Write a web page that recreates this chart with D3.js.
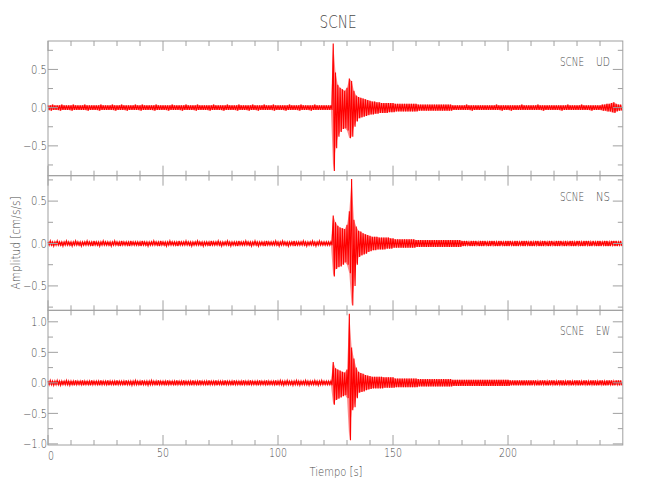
<!DOCTYPE html>
<html><head><meta charset="utf-8">
<script src="https://cdn.jsdelivr.net/npm/d3@7"></script>
<style>
body{margin:0;background:#fff}
text{font-family:'DejaVu Sans',sans-serif;font-weight:200;fill:#4a4a4a}
</style>
</head><body>
<svg id="chart" width="650" height="500"></svg>
<script>
// ---------- DATA ----------
const chartTitle = "SCNE";
const station = "SCNE";
const components = ["UD", "NS", "EW"];
const xLabel = "Tiempo [s]";
const yLabel = "Amplitud [cm/s/s]";
const xDomain = [0, 249.9];
const xMajorTicks = [0, 50, 100, 150, 200];
const xMinorTicks = d3.range(0, 250, 10);
const yDomains = [[-0.89, 0.872], [-0.788, 0.80], [-1.018, 1.188]];
const yMajorTicks = [[-0.5, 0, 0.5], [-0.5, 0, 0.5], [-1, -0.5, 0, 0.5, 1]];
const yMinorTicks = [[-0.75, -0.5, -0.25, 0, 0.25, 0.5, 0.75],
                     [-0.75, -0.5, -0.25, 0, 0.25, 0.5, 0.75],
                     [-1, -0.75, -0.5, -0.25, 0, 0.25, 0.5, 0.75, 1]];
const ampUnit = 0.01; // envelope values below are in hundredths of cm/s/s, one per second (0..249 s)

const udUpper = [
3,3,4,3,3,3,4,3,3,3, 3,4,3,3,3,3,4,3,3,3, 3,3,3,4,3,3,3,3,4,3, 3,3,4,3,3,3,3,3,4,3, 3,4,3,3,3,3,3,4,3,3,
3,3,3,3,4,3,3,3,3,3, 4,3,3,3,3,4,3,3,3,3, 3,3,4,3,3,3,3,3,4,3, 3,3,3,4,3,3,3,3,3,4, 3,3,3,3,4,3,3,3,4,3,
3,3,3,3,3,4,3,3,3,3, 4,3,3,3,3,3,4,3,3,3, 3,3,3,3,84,46,30,26,24,22, 26,38,35,22,16,14,13,12,11,10, 9,8,8,7,7,6,6,6,6,6,
6,5,5,5,5,5,5,5,5,5, 5,4,4,4,4,4,4,4,4,4, 4,4,4,4,4,4,3,3,3,3, 3,3,4,3,3,3,3,3,3,3, 3,3,3,3,3,4,3,3,3,3,
3,3,3,3,3,3,4,3,3,3, 3,3,3,4,3,3,3,3,3,3, 3,3,3,3,3,3,4,3,3,3, 3,3,4,3,3,3,3,3,3,3, 3,4,4,5,5,6,7,5,4,4];
const udLower = [
-3,-4,-3,-3,-3,-4,-3,-3,-3,-3, -4,-3,-3,-3,-3,-3,-3,-4,-3,-3, -3,-3,-4,-3,-3,-3,-3,-3,-3,-4, -3,-3,-3,-3,-4,-3,-3,-3,-3,-3, -4,-3,-3,-3,-3,-3,-4,-3,-3,-3,
-3,-3,-4,-3,-3,-3,-3,-3,-4,-3, -3,-3,-3,-3,-4,-3,-3,-3,-3,-3, -4,-3,-3,-3,-3,-3,-4,-3,-3,-3, -3,-3,-4,-3,-3,-3,-3,-4,-3,-3, -3,-4,-3,-3,-3,-3,-3,-3,-4,-3,
-3,-3,-3,-4,-3,-3,-3,-3,-3,-4, -3,-3,-3,-3,-4,-3,-3,-3,-3,-3, -3,-3,-3,-3,-83,-53,-38,-32,-28,-27, -30,-40,-38,-25,-18,-14,-13,-12,-11,-10, -9,-9,-8,-8,-7,-7,-7,-7,-6,-6,
-6,-5,-5,-5,-5,-5,-5,-5,-5,-5, -5,-4,-4,-4,-4,-4,-4,-4,-4,-4, -4,-4,-4,-4,-4,-4,-3,-3,-3,-3, -3,-3,-3,-3,-4,-3,-3,-3,-3,-3, -3,-3,-3,-3,-3,-3,-3,-4,-3,-3,
-3,-4,-3,-3,-3,-3,-3,-3,-3,-3, -3,-3,-3,-3,-3,-4,-3,-3,-3,-3, -3,-3,-3,-4,-3,-3,-3,-3,-3,-3, -3,-3,-3,-3,-3,-3,-4,-3,-3,-3, -3,-4,-4,-5,-5,-6,-7,-5,-4,-4];

const nsUpper = [
2,3,2,2,3,2,2,2,3,2, 2,2,3,2,2,2,2,3,2,2, 3,2,2,2,3,2,2,2,2,3, 2,2,3,2,2,2,3,2,2,2, 2,3,2,2,2,2,3,2,2,3,
2,2,2,3,2,2,2,3,2,2, 3,2,2,2,2,3,2,2,2,2, 2,3,2,2,3,2,2,2,3,2, 2,2,2,3,2,2,3,2,2,2, 3,2,2,2,2,3,2,2,2,3,
2,2,3,2,2,2,2,3,2,2, 2,3,2,2,2,3,2,2,3,2, 2,2,2,2,33,25,21,19,18,17, 22,38,76,28,20,15,14,12,11,10, 9,8,8,8,7,7,7,7,7,6,
6,5,5,5,5,5,5,5,5,5, 4,4,4,4,4,4,4,4,4,4, 4,4,4,4,4,4,4,4,4,4, 3,3,3,2,3,3,3,2,3,3, 3,2,3,3,3,2,3,3,2,3,
3,3,2,3,3,2,3,3,3,2, 3,2,3,3,2,3,3,2,3,3, 2,3,3,3,2,3,2,3,3,2, 3,3,2,3,3,3,2,3,2,3, 3,2,3,3,2,3,3,3,2,3];
const nsLower = [
-2,-2,-3,-2,-2,-2,-3,-2,-2,-2, -3,-2,-2,-2,-3,-2,-2,-2,-2,-3, -2,-2,-3,-2,-2,-2,-2,-3,-2,-2, -2,-3,-2,-2,-2,-3,-2,-2,-2,-2, -3,-2,-2,-3,-2,-2,-2,-2,-3,-2,
-2,-3,-2,-2,-2,-2,-3,-2,-2,-2, -2,-2,-3,-2,-2,-2,-2,-3,-2,-2, -3,-2,-2,-2,-2,-3,-2,-2,-2,-3, -2,-2,-3,-2,-2,-2,-2,-2,-3,-2, -2,-3,-2,-2,-3,-2,-2,-2,-2,-2,
-3,-2,-2,-2,-3,-2,-2,-3,-2,-2, -2,-2,-3,-2,-2,-2,-3,-2,-2,-2, -2,-2,-2,-2,-39,-30,-28,-27,-25,-22, -25,-35,-73,-50,-25,-16,-14,-13,-12,-10, -9,-8,-8,-7,-7,-7,-7,-6,-6,-6,
-5,-5,-5,-5,-5,-5,-5,-5,-5,-5, -4,-4,-4,-4,-4,-4,-4,-4,-4,-4, -4,-4,-4,-4,-4,-4,-4,-4,-4,-4, -3,-3,-2,-3,-3,-3,-2,-3,-3,-3, -2,-3,-3,-2,-3,-3,-3,-2,-3,-3,
-3,-2,-3,-3,-3,-2,-3,-3,-2,-3, -3,-3,-2,-3,-3,-3,-2,-3,-3,-2, -3,-3,-3,-2,-3,-3,-2,-3,-3,-3, -2,-3,-3,-3,-2,-3,-3,-2,-3,-3, -3,-2,-3,-3,-3,-2,-3,-3,-2,-3];

const ewUpper = [
3,4,3,3,4,3,3,3,4,3, 3,3,4,3,3,4,3,3,3,4, 3,3,3,4,3,3,4,3,3,3, 4,3,3,3,4,3,3,3,4,3, 3,4,3,3,3,4,3,3,4,3,
3,3,4,3,3,3,4,3,3,4, 3,3,3,4,3,3,4,3,3,3, 4,3,3,4,3,3,3,4,3,3, 3,4,3,3,3,4,3,3,4,3, 3,3,4,3,3,4,3,3,3,4,
3,4,3,3,4,3,3,3,4,3, 3,3,4,3,3,3,4,3,3,4, 3,3,3,3,34,24,22,20,18,17, 22,113,58,40,25,18,16,15,13,12, 11,10,10,10,10,10,9,9,9,9,
9,7,7,7,7,7,7,7,7,7, 7,6,6,6,6,6,6,6,6,6, 6,6,6,6,6,6,5,5,5,5, 5,5,5,5,5,5,5,5,5,5, 5,5,5,5,5,5,5,5,5,5,
5,4,4,4,4,4,4,4,4,4, 4,4,4,3,4,4,4,3,4,4, 4,3,4,4,4,3,4,4,3,4, 4,4,3,4,4,3,4,4,4,3, 4,4,3,4,4,4,3,4,4,4];
const ewLower = [
-3,-3,-4,-3,-3,-4,-3,-3,-3,-4, -3,-4,-3,-3,-3,-4,-3,-3,-4,-3, -3,-3,-4,-3,-3,-3,-4,-3,-3,-4, -3,-3,-3,-4,-3,-3,-4,-3,-3,-3, -4,-3,-3,-4,-3,-3,-3,-4,-3,-3,
-3,-4,-3,-3,-3,-4,-3,-3,-4,-3, -3,-3,-4,-3,-3,-4,-3,-3,-3,-4, -3,-3,-3,-4,-3,-3,-4,-3,-3,-3, -4,-3,-3,-3,-4,-3,-3,-4,-3,-3, -3,-4,-3,-3,-3,-4,-3,-3,-3,-4,
-3,-3,-4,-3,-3,-3,-4,-3,-3,-4, -3,-3,-3,-4,-3,-3,-3,-4,-3,-3, -3,-3,-3,-4,-36,-28,-26,-24,-22,-20, -25,-94,-45,-40,-25,-16,-15,-14,-12,-11, -10,-9,-9,-9,-9,-9,-8,-8,-8,-8,
-8,-7,-7,-7,-7,-7,-7,-7,-7,-7, -7,-6,-6,-6,-6,-6,-6,-6,-6,-6, -6,-6,-6,-6,-6,-6,-5,-5,-5,-5, -5,-5,-5,-5,-5,-5,-5,-5,-5,-5, -5,-5,-5,-5,-5,-5,-5,-5,-5,-5,
-5,-4,-4,-4,-4,-4,-4,-4,-4,-4, -4,-3,-4,-4,-4,-3,-4,-4,-4,-3, -4,-4,-3,-4,-4,-4,-3,-4,-4,-3, -4,-4,-4,-3,-4,-4,-3,-4,-4,-4, -3,-4,-4,-4,-3,-4,-4,-3,-4,-4];

const traces = [
  {upper: udUpper, lower: udLower},
  {upper: nsUpper, lower: nsLower},
  {upper: ewUpper, lower: ewLower}
];

// ---------- LAYOUT ----------
const svg = d3.select("#chart");
const plotLeft = 48, plotRight = 622.8, plotTop = 41, plotBottom = 445;
const panelH = (plotBottom - plotTop) / 3;
const axisColor = "#a0a0a0";
const traceColor = "#ff0000";
const majorLen = 10, minorLen = 5;

const x = d3.scaleLinear().domain(xDomain).range([plotLeft, plotRight]);

svg.append("text").attr("x", 338).attr("y", 28).attr("text-anchor", "middle")
  .attr("font-size", 18).attr("textLength", 37).attr("lengthAdjust", "spacingAndGlyphs").text(chartTitle);

traces.forEach((tr, k) => {
  const y0 = plotTop + k * panelH, y1 = y0 + panelH;
  const y = d3.scaleLinear().domain(yDomains[k]).range([y1, y0]);
  const g = svg.append("g");

  // light envelope fill (reads as the dense oscillation of the trace)
  g.append("path").datum(tr.upper.map((u, i) => [i, u * ampUnit, tr.lower[i] * ampUnit]))
    .attr("d", d3.area().x(d => x(d[0])).y0(d => y(d[2])).y1(d => y(d[1])))
    .attr("fill", traceColor).attr("fill-opacity", 0.45);

  const pts = [];
  tr.upper.forEach((u, i) => {
    pts.push([i, u * ampUnit]);
    pts.push([i + 0.5, tr.lower[i] * ampUnit]);
  });
  g.append("path").datum(pts)
    .attr("d", d3.line().x(d => x(d[0])).y(d => y(d[1])))
    .attr("fill", "none").attr("stroke", traceColor).attr("stroke-width", 1.1);

  g.append("rect").attr("x", plotLeft).attr("y", y0).attr("width", plotRight - plotLeft).attr("height", panelH)
    .attr("fill", "none").attr("stroke", axisColor).attr("stroke-width", 1);

  xMinorTicks.forEach(t => {
    const len = xMajorTicks.includes(t) ? majorLen : minorLen;
    g.append("line").attr("x1", x(t)).attr("x2", x(t)).attr("y1", y1).attr("y2", y1 - len)
      .attr("stroke", axisColor);
    g.append("line").attr("x1", x(t)).attr("x2", x(t)).attr("y1", y0).attr("y2", y0 + len)
      .attr("stroke", axisColor);
  });
  yMinorTicks[k].forEach(v => {
    const len = yMajorTicks[k].includes(v) ? majorLen : minorLen;
    g.append("line").attr("x1", plotLeft).attr("x2", plotLeft + len).attr("y1", y(v)).attr("y2", y(v))
      .attr("stroke", axisColor);
    g.append("line").attr("x1", plotRight).attr("x2", plotRight - len).attr("y1", y(v)).attr("y2", y(v))
      .attr("stroke", axisColor);
  });
  yMajorTicks[k].forEach(v => {
    const s = d3.format(".1f")(v);
    g.append("text").attr("x", plotLeft - 1).attr("y", y(v)).attr("dy", "0.36em")
      .attr("text-anchor", "end").attr("font-size", 12)
      .attr("textLength", s.length === 3 ? 16 : 24).attr("lengthAdjust", "spacingAndGlyphs")
      .text(s);
  });

  g.append("text").attr("x", 584).attr("y", y0 + 25).attr("text-anchor", "end")
    .attr("font-size", 12).attr("textLength", 24).attr("lengthAdjust", "spacingAndGlyphs").text(station);
  g.append("text").attr("x", 610).attr("y", y0 + 25).attr("text-anchor", "end")
    .attr("font-size", 12).attr("textLength", 14).attr("lengthAdjust", "spacingAndGlyphs").text(components[k]);
});

xMajorTicks.forEach(t => {
  const s = String(t);
  svg.append("text").attr("x", t === 0 ? x(t) + 3 : x(t)).attr("y", t === 0 ? 460 : 457).attr("text-anchor", "middle")
    .attr("font-size", 12).attr("textLength", 6 * s.length).attr("lengthAdjust", "spacingAndGlyphs").text(s);
});
svg.append("text").attr("x", 336).attr("y", 476).attr("text-anchor", "middle")
  .attr("font-size", 13).attr("textLength", 53).attr("lengthAdjust", "spacingAndGlyphs").text(xLabel);
svg.append("text").attr("transform", "translate(20,243) rotate(-90)").attr("text-anchor", "middle")
  .attr("font-size", 13).attr("textLength", 93).attr("lengthAdjust", "spacingAndGlyphs").text(yLabel);
</script>
</body></html>
